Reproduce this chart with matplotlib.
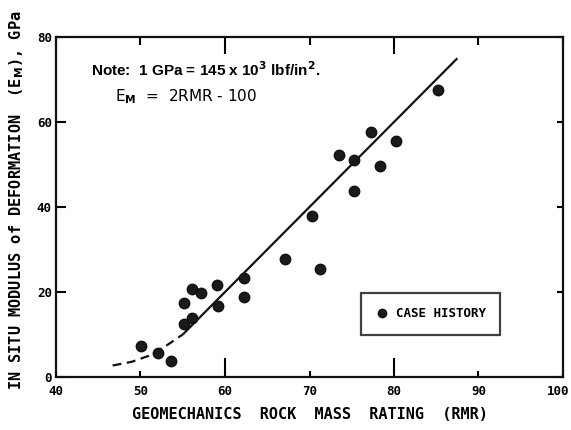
import matplotlib
matplotlib.use("Agg")
import matplotlib.pyplot as plt
import matplotlib.transforms as mtrans

# Data
rmr = [50.1, 52.1, 53.6, 55.1, 55.1, 56.1, 56.1, 57.2, 59.1, 59.2, 62.2, 62.2,
       67.1, 70.3, 71.3, 73.5, 75.3, 75.3, 77.3, 78.3, 80.2, 85.2]
em = [7.3, 5.6, 3.8, 12.4, 17.3, 20.6, 14.0, 19.7, 21.6, 16.7, 23.2, 18.9,
      27.7, 37.9, 25.5, 52.2, 51.1, 43.8, 57.6, 49.6, 55.5, 67.5]

# Fitted line E_M = 2 RMR - 100
fit_rmr = [55.0, 87.5]
fit_em = [2 * r - 100 for r in fit_rmr]

# Dashed extension at low RMR
dash_rmr = [46.7, 49.0, 51.0, 53.0, 55.0]
dash_em = [2.7, 3.6, 5.0, 7.3, 10.0]

xticks = [40, 50, 60, 70, 80, 90, 100]
yticks = [0, 20, 40, 60, 80]

lab_font = "DejaVu Sans Mono"
ink = "#111111"

fig = plt.figure(figsize=(5.71, 4.30), dpi=100)
ax = fig.add_axes([56 / 571, 53 / 430, 507 / 571, 340 / 430])

ax.plot(fit_rmr, fit_em, color=ink, lw=1.6, solid_capstyle="butt")
ax.plot(dash_rmr, dash_em, color=ink, lw=1.6, dashes=(4, 2.5))
ax.plot(rmr, em, "o", color="#1a1a1a", ms=7.5, mec=ink, label="CASE HISTORY", ls="none")

ax.set_xlim(40, 100)
ax.set_ylim(0, 80)
ax.set_xticks(xticks)
ax.set_yticks(yticks)
ax.set_xticklabels([str(t) for t in xticks], family=lab_font, fontweight="bold", fontsize=9)
ax.set_yticklabels([str(t) for t in yticks], family=lab_font, fontweight="bold", fontsize=9)
ax.tick_params(axis="both", direction="in", width=1.5, length=6, top=True, right=True)
ax.tick_params(axis="x", pad=6)
ax.tick_params(axis="y", pad=3)

# tick lengths: long ticks at 60 and 80 on the x axis
for val, tk in zip(xticks, ax.xaxis.get_major_ticks()):
    if val in (60, 80):
        tk.tick1line.set_markersize(14)
        tk.tick2line.set_markersize(12)
    else:
        tk.tick1line.set_markersize(4)
        tk.tick2line.set_markersize(6)
for tk in ax.yaxis.get_major_ticks():
    tk.tick1line.set_markersize(7)
    tk.tick2line.set_markersize(4)

# nudge the '100' label so that it stays inside the picture
last = ax.get_xticklabels()[-1]
last.set_transform(last.get_transform() + mtrans.ScaledTranslation(-5 / 100, 0, fig.dpi_scale_trans))

for s in ax.spines.values():
    s.set_linewidth(1.6)
    s.set_color(ink)

ax.set_xlabel("GEOMECHANICS  ROCK  MASS  RATING  (RMR)", family=lab_font,
              fontweight="bold", fontsize=11, labelpad=6)
ax.set_ylabel(r"IN SITU MODULUS of DEFORMATION  (E$_\mathbf{M}$), GPa", family=lab_font,
              fontweight="bold", fontsize=11)
ax.yaxis.set_label_coords(-0.06, 0.52)

ax.text(0.07, 0.905, r"Note:  1 GPa = 145 x 10$^\mathbf{3}$ lbf/in$^\mathbf{2}$.",
        transform=ax.transAxes, family="Liberation Sans", fontweight="bold",
        fontsize=11, va="center", ha="left")
ax.text(0.116, 0.825, r"E$_\mathbf{M}$  =  2RMR - 100", transform=ax.transAxes,
        family="DejaVu Sans", fontsize=11, va="center", ha="left")

leg = ax.legend(loc="lower left", bbox_to_anchor=(0.602, 0.124), frameon=True,
                fancybox=False, edgecolor=ink, borderpad=1.15, handletextpad=0.6,
                markerscale=0.8, handlelength=1.0, borderaxespad=0.0,
                prop={"family": lab_font, "weight": "bold", "size": 9})
leg.get_frame().set_linewidth(1.6)

fig.savefig("out.png", dpi=100)
